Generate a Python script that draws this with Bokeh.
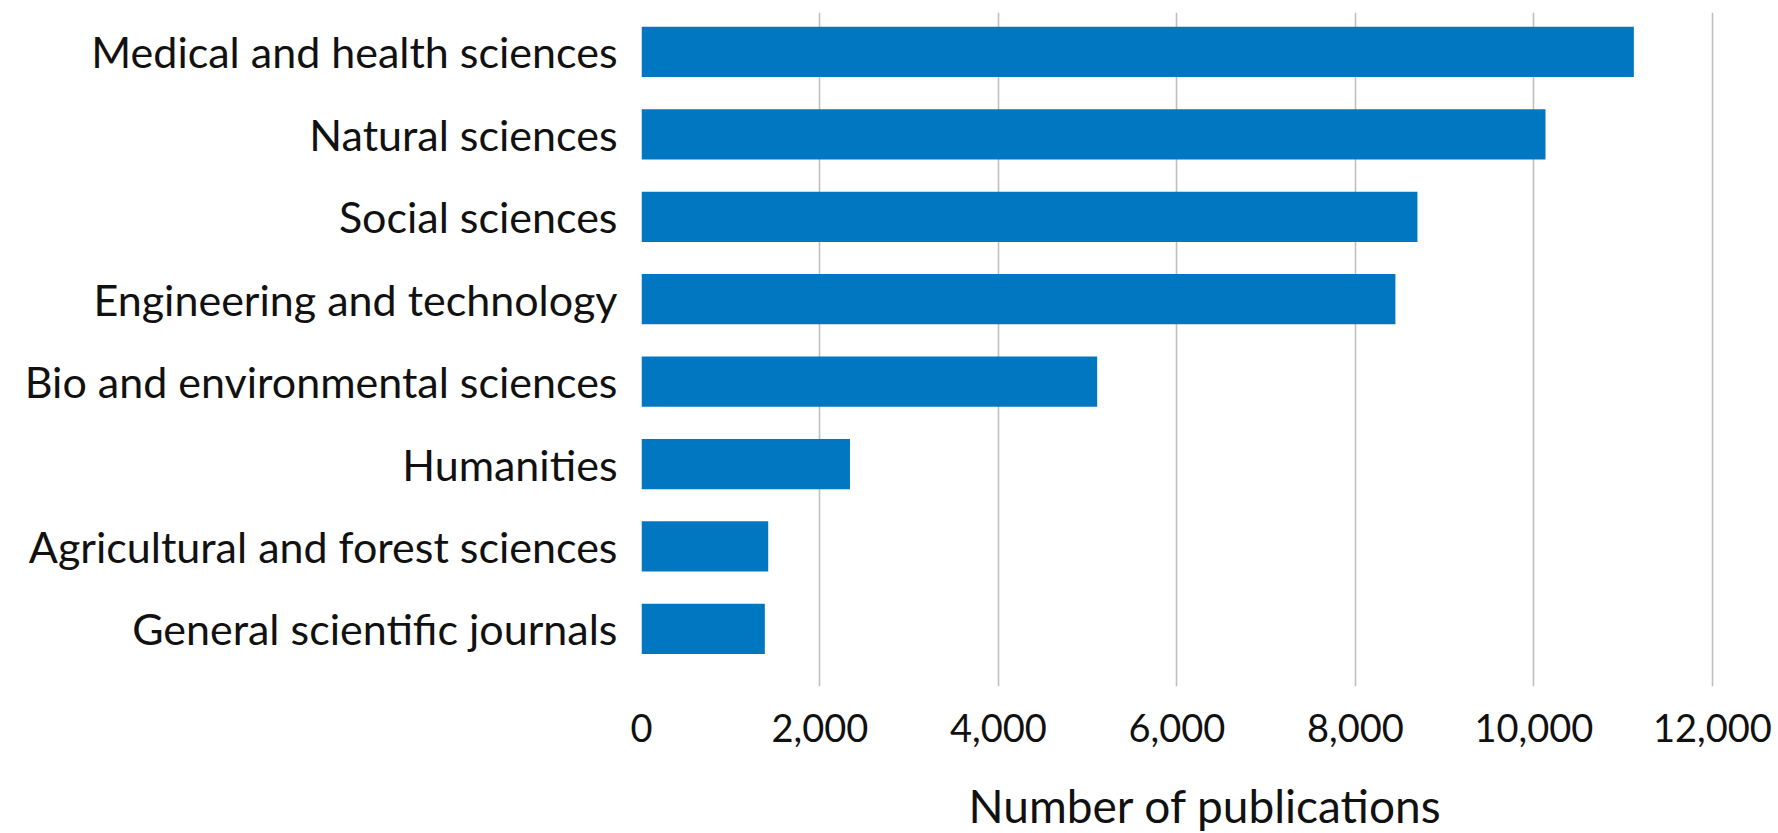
from bokeh.plotting import figure
from bokeh.models import Range1d, FixedTicker, NumeralTickFormatter, ColumnDataSource
from bokeh.embed import file_html
from bokeh.resources import INLINE

categories = [
    "Medical and health sciences",
    "Natural sciences",
    "Social sciences",
    "Engineering and technology",
    "Bio and environmental sciences",
    "Humanities",
    "Agricultural and forest sciences",
    "General scientific journals",
]
publications = [11120, 10130, 8695, 8448, 5106, 2336, 1420, 1382]
x_ticks = [0, 2000, 4000, 6000, 8000, 10000, 12000]

n = len(categories)
ypos = [n - 1 - i for i in range(n)]

src = ColumnDataSource(dict(y=ypos, v=publications, cat=categories))

FONT = "Lato"

p = figure(
    output_backend="svg",
    toolbar_location=None,
    frame_width=1128,
    frame_height=674,
    min_border_left=641,
    min_border_right=8,
    min_border_top=12,
    min_border_bottom=138,
    x_range=Range1d(0, 12640),
    y_range=Range1d(-0.699, 7.479),
    background_fill_color="white",
    border_fill_color="white",
    outline_line_color=None,
)

p.hbar(y="y", left=0, right="v", height=0.61, source=src,
       fill_color="#0077c0", line_color=None)

# grid
p.xgrid.ticker = FixedTicker(ticks=x_ticks)
p.xgrid.grid_line_color = "#bfbfbf"
p.xgrid.grid_line_width = 1.6
p.ygrid.grid_line_color = None

# x axis
xa = p.xaxis[0]
xa.ticker = FixedTicker(ticks=x_ticks)
xa.formatter = NumeralTickFormatter(format="0,0")
xa.axis_line_color = None
xa.major_tick_line_color = None
xa.minor_tick_line_color = None
xa.major_label_text_font = FONT
xa.major_label_text_font_size = "38px"
xa.major_label_text_color = "#111111"
xa.major_label_standoff = 21
xa.axis_label = "Number of publications"
xa.axis_label_text_font = FONT
xa.axis_label_text_font_size = "46px"
xa.axis_label_text_font_style = "normal"
xa.axis_label_text_color = "#111111"
xa.axis_label_standoff = 33

# y axis
ya = p.yaxis[0]
ya.ticker = FixedTicker(ticks=ypos)
ya.major_label_overrides = {y: c for y, c in zip(ypos, categories)}
ya.axis_line_color = None
ya.major_tick_line_color = None
ya.minor_tick_line_color = None
ya.major_label_text_font = FONT
ya.major_label_text_font_size = "43px"
ya.major_label_text_color = "#111111"
ya.major_label_standoff = 18

open("out.html", "w").write(file_html(p, INLINE))
